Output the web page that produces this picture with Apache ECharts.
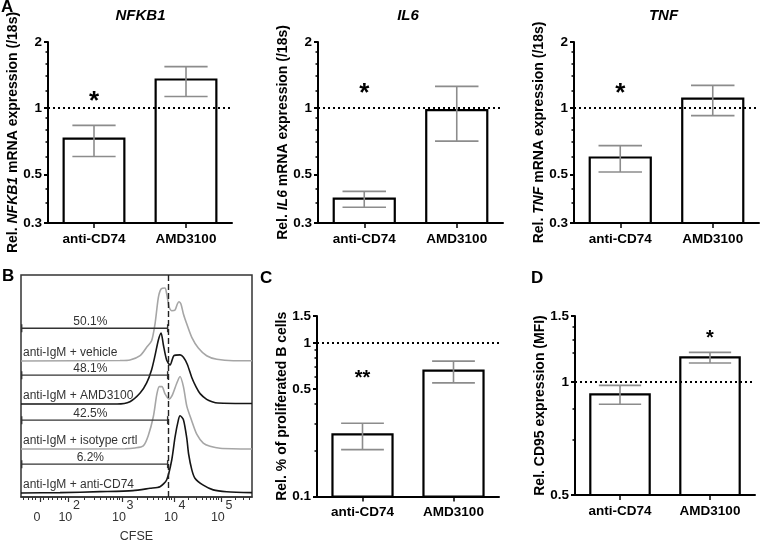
<!DOCTYPE html>
<html><head><meta charset="utf-8">
<script src="https://cdn.jsdelivr.net/npm/echarts@6/dist/echarts.min.js"></script>
<style>html,body{margin:0;padding:0;background:#fff}#c{width:762px;height:545px}</style>
</head><body><div id="c"></div>
<script>
// ---------- DATA ----------
const categories = ['anti-CD74', 'AMD3100'];

// Panel A
const nfkb1Mean = [0.726, 1.35],  nfkb1Low = [0.602, 1.13],  nfkb1High = [0.835, 1.545];
const il6Mean   = [0.387, 0.98],  il6Low   = [0.354, 0.708], il6High   = [0.418, 1.256];
const tnfMean   = [0.596, 1.105], tnfLow   = [0.512, 0.924], tnfHigh   = [0.675, 1.27];
const axisAMajor = [0.3, 0.5, 1, 2];
const axisAMinor = [0.37, 0.43, 0.6, 0.7, 0.8, 0.9, 1.2, 1.4, 1.6, 1.8];

// Panel C
const prolifMean = [0.254, 0.66], prolifLow = [0.202, 0.55], prolifHigh = [0.30, 0.762];
const axisCMajor = [0.1, 0.5, 1, 1.5];
const axisCMinor = [0.2, 0.3, 0.4, 0.6, 0.7, 0.8, 0.9];

// Panel D
const cd95Mean = [0.927, 1.164], cd95Low = [0.873, 1.124], cd95High = [0.98, 1.20];
const axisDMajor = [0.5, 1, 1.5];
const axisDMinor = [0.7, 0.85, 1.2, 1.3, 1.4];

// significance marks: [category index, value]
const sigNfkb1 = [0, 1.13], sigIl6 = [0, 1.24], sigTnf = [0, 1.24], sigProlif = [0, 0.63], sigCd95 = [1, 1.34];
const sigTexts = ['*', '*', '*', '**', '*'];
const refValue = 1;

// Panel B (CFSE histograms, channel units 0-1024, % of mode)
const vehicleX = [0, 439, 483, 528, 557, 579, 594, 609, 621, 638, 646, 657, 668, 683, 693, 700, 709, 720, 735, 757, 786, 823, 868, 941, 1024];
const vehicleY = [0, 0.6, 1.3, 6.8, 17.6, 25.9, 47.4, 81.6, 92.3, 93.6, 85.9, 68.8, 64.5, 65.4, 73.1, 76.0, 73.1, 60.3, 47.4, 30.4, 16.7, 6.8, 2.2, 0.4, 0.4];
const amdX = [0, 426, 483, 528, 557, 579, 594, 609, 621, 631, 646, 661, 678, 705, 720, 737, 757, 776, 795, 823, 847, 873, 1024];
const amdY = [0, 0, 3, 14, 27, 44, 62, 82, 91, 76, 56, 50, 62, 63, 60, 51, 34, 22, 13, 6, 3, 1.3, 0.6];
const isoX = [0, 461, 505, 542, 564, 587, 602, 613, 625, 638, 656, 669, 690, 705, 720, 735, 757, 779, 808, 838, 882, 1024];
const isoY = [0, 0.3, 1.3, 4, 17, 42, 70, 80, 80, 71, 64, 68, 84, 93, 80, 55, 36, 19, 7.5, 3.5, 1.0, 0];
const cd74X = [0, 173, 350, 496, 572, 616, 646, 668, 683, 698, 705, 720, 735, 743, 757, 771, 808, 852, 912, 1024];
const cd74Y = [0, 0.5, 1.7, 3, 6, 8, 17, 42, 72, 94, 99, 94, 70, 50, 30, 19, 10, 4, 1.7, 0.5];
const sampleNames = ['anti-IgM + vehicle', 'anti-IgM + AMD3100', 'anti-IgM + isotype crtl', 'anti-IgM + anti-CD74'];
const gatePercents = ['50.1%', '48.1%', '42.5%', '6.2%'];
const gateStart = 0, gateEnd = 650;
const gateHeights = [42, 37, 37, 37];
const cutoff = 654;
const cfseTickPos = [84, 210, 448, 678, 886];
const cfseTickBase = ['0', '10', '10', '10', '10'];
const cfseTickExp = ['', '2', '3', '4', '5'];
const cfseMinorPos = [10, 30, 50, 65, 100, 120, 140, 160, 180, 195, 282, 324, 353, 376, 395, 411, 425, 437,
  517, 558, 586, 609, 627, 642, 656, 667, 741, 777, 803, 823, 840, 854, 866, 876, 949, 985, 1011];

// ---------- LAYOUT / STYLE ----------
const FONT = 'Liberation Sans, Arial, sans-serif';
const L = v => Math.log10(v);
const barPanels = [
  {mean: nfkb1Mean, lo: nfkb1Low, hi: nfkb1High, min: 0.3, max: 2, major: axisAMajor, minor: axisAMinor,
   name: 'Rel. {i|NFKB1} mRNA expression (/18s)', sig: sigNfkb1, star: 26, grid: {left: 48, top: 42, width: 184, height: 181}},
  {mean: il6Mean, lo: il6Low, hi: il6High, min: 0.3, max: 2, major: axisAMajor, minor: axisAMinor,
   name: 'Rel. {i|IL6} mRNA expression (/18s)', sig: sigIl6, star: 26, grid: {left: 318, top: 42, width: 185, height: 181}},
  {mean: tnfMean, lo: tnfLow, hi: tnfHigh, min: 0.3, max: 2, major: axisAMajor, minor: axisAMinor,
   name: 'Rel. {i|TNF} mRNA expression (/18s)', sig: sigTnf, star: 26, grid: {left: 574, top: 42, width: 185, height: 181}},
  {mean: prolifMean, lo: prolifLow, hi: prolifHigh, min: 0.1, max: 1.5, major: axisCMajor, minor: axisCMinor,
   name: 'Rel. % of proliferated B cells', sig: sigProlif, star: 20, grid: {left: 317, top: 316, width: 182, height: 180.5}},
  {mean: cd95Mean, lo: cd95Low, hi: cd95High, min: 0.5, max: 1.5, major: axisDMajor, minor: axisDMinor,
   name: 'Rel. CD95 expression (MFI)', sig: sigCd95, star: 20, grid: {left: 575, top: 316, width: 180, height: 179}}
];
const histBaselines = [361, 404, 449, 493];
const histHeight = 78;
const histColors = ['#a6a6a6', '#151515', '#a6a6a6', '#151515'];
const histSeries = [[vehicleX, vehicleY], [amdX, amdY], [isoX, isoY], [cd74X, cd74Y]];

const fmtLog = v => String(parseFloat(Math.pow(10, v).toPrecision(3)));

const grid = [], xAxis = [], yAxis = [], series = [];

barPanels.forEach((p, i) => {
  grid.push(Object.assign({outerBoundsMode: 'none', containLabel: false}, p.grid));
  xAxis.push({type: 'category', gridIndex: i, data: categories, position: 'bottom',
    axisLine: {show: true, onZero: false, lineStyle: {color: '#000', width: 2}},
    axisTick: {show: true, alignWithLabel: true, length: 5, lineStyle: {color: '#000', width: 1.5}},
    axisLabel: {fontSize: 13.5, fontWeight: 'bold', color: '#000', margin: 9, fontFamily: FONT},
    splitLine: {show: false}});
  yAxis.push({type: 'value', gridIndex: i, min: L(p.min), max: L(p.max), position: 'left',
    axisLine: {show: true, onZero: false, lineStyle: {color: '#000', width: 2}},
    axisTick: {show: true, customValues: p.major.map(L), length: 4, lineStyle: {color: '#000', width: 2}},
    axisLabel: {customValues: p.major.map(L), formatter: fmtLog, fontSize: 13.5, fontWeight: 'bold', color: '#000', margin: 6, fontFamily: FONT},
    splitLine: {show: false},
    name: p.name, nameLocation: 'middle', nameGap: 28, nameRotate: 90, nameMoveOverlap: false,
    nameTextStyle: {fontSize: 14, fontWeight: 'bold', color: '#000', fontFamily: FONT,
      rich: {i: {fontSize: 14, fontWeight: 'bold', fontStyle: 'italic', color: '#000', fontFamily: FONT}}}});
  yAxis.push({type: 'value', gridIndex: i, min: L(p.min), max: L(p.max), position: 'left',
    axisLine: {show: false}, axisLabel: {show: false}, splitLine: {show: false},
    axisTick: {show: true, customValues: p.minor.map(L), length: 2.5, lineStyle: {color: '#000', width: 1.5}}});
  const data = categories.map((c, j) => [j, L(p.mean[j]), L(p.lo[j]), L(p.hi[j])]);
  const yMinL = L(p.min);
  series.push({type: 'line', xAxisIndex: i, yAxisIndex: 2 * i, data: [], silent: true,
    markLine: {silent: true, symbol: ['none', 'none'], label: {show: false}, animation: false,
      lineStyle: {color: '#000', width: 2, type: [2, 3]}, data: [{yAxis: L(refValue)}]}});
  series.push({type: 'custom', xAxisIndex: i, yAxisIndex: 2 * i, data: data, encode: {x: 0, y: 1},
    renderItem: (params, api) => {
      const j = api.value(0);
      const top = api.coord([j, api.value(1)]);
      const base = api.coord([j, yMinL]);
      const w = api.size([1, 0])[0] * 0.66;
      return {type: 'rect', shape: {x: top[0] - w / 2, y: top[1], width: w, height: base[1] - top[1]},
        style: {fill: '#fff', stroke: '#000', lineWidth: 2.2}};
    }});
  series.push({type: 'custom', xAxisIndex: i, yAxisIndex: 2 * i, data: data, encode: {x: 0, y: [2, 3]}, z: 3,
    renderItem: (params, api) => {
      const j = api.value(0);
      const lo = api.coord([j, api.value(2)]);
      const hi = api.coord([j, api.value(3)]);
      const hw = api.size([1, 0])[0] * 0.235;
      const st = {stroke: '#8c8c8c', lineWidth: 1.6};
      return {type: 'group', children: [
        {type: 'line', shape: {x1: lo[0], y1: lo[1], x2: hi[0], y2: hi[1]}, style: st},
        {type: 'line', shape: {x1: lo[0] - hw, y1: lo[1], x2: lo[0] + hw, y2: lo[1]}, style: st},
        {type: 'line', shape: {x1: hi[0] - hw, y1: hi[1], x2: hi[0] + hw, y2: hi[1]}, style: st}]};
    }});
  series.push({type: 'custom', xAxisIndex: i, yAxisIndex: 2 * i, data: [[p.sig[0], L(p.sig[1])]], encode: {x: 0, y: 1},
    renderItem: (params, api) => {
      const c = api.coord([api.value(0), api.value(1)]);
      return {type: 'text', x: c[0], y: c[1] + 0.22 * p.star,
        style: {text: sigTexts[i], fontSize: p.star, fontWeight: 'bold', fill: '#000', align: 'center', verticalAlign: 'middle', fontFamily: FONT}};
    }});
});

// Panel B frame (grid 5)
grid.push({left: 21, top: 275, width: 231, height: 222, show: true, borderColor: '#333', borderWidth: 1.5,
  backgroundColor: 'transparent', outerBoundsMode: 'none', containLabel: false});
const boxX = xAxis.length;
const tickIdx = v => cfseTickPos.indexOf(v);
xAxis.push({type: 'value', gridIndex: 5, min: 0, max: 1024, position: 'bottom',
  axisLine: {show: true, onZero: false, lineStyle: {color: '#333', width: 1.5}},
  axisTick: {show: true, customValues: cfseTickPos, length: 5, lineStyle: {color: '#333', width: 1.2}},
  axisLabel: {customValues: cfseTickPos, margin: 14, color: '#333', fontFamily: FONT, fontSize: 12.5,
    padding: [0, 6, 0, 0], formatter: v => cfseTickBase[tickIdx(v)]},
  splitLine: {show: false},
  name: 'CFSE', nameLocation: 'middle', nameGap: 33, nameMoveOverlap: false,
  nameTextStyle: {fontSize: 12.5, color: '#333', fontFamily: FONT}});
xAxis.push({type: 'value', gridIndex: 5, min: 0, max: 1024, position: 'bottom',
  axisLine: {show: false}, splitLine: {show: false},
  axisTick: {show: true, customValues: cfseMinorPos, length: 3, lineStyle: {color: '#333', width: 1}},
  axisLabel: {customValues: cfseTickPos, margin: 2, color: '#333', fontFamily: FONT, fontSize: 12.5,
    padding: [0, 0, 0, 16], formatter: v => cfseTickExp[tickIdx(v)]}});
const boxY = yAxis.length;
yAxis.push({type: 'value', gridIndex: 5, min: 0, max: 1, show: false});
series.push({type: 'line', xAxisIndex: boxX, yAxisIndex: boxY, data: [], silent: true, z: 5,
  markLine: {silent: true, symbol: ['none', 'none'], label: {show: false}, animation: false,
    lineStyle: {color: '#222', width: 1.4, type: [6, 3]}, data: [{xAxis: cutoff}]}});

// histogram grids
histBaselines.forEach((b, k) => {
  const gi = grid.length;
  grid.push({left: 21, width: 231, top: b - histHeight, height: histHeight, outerBoundsMode: 'none', containLabel: false});
  const xi = xAxis.length, yi = yAxis.length;
  xAxis.push({type: 'value', gridIndex: gi, min: 0, max: 1024, show: false});
  yAxis.push({type: 'value', gridIndex: gi, min: 0, max: 100, show: false});
  const [xs, ys] = histSeries[k];
  series.push({type: 'line', xAxisIndex: xi, yAxisIndex: yi, data: xs.map((x, n) => [x, ys[n]]),
    symbol: 'none', smooth: 0.25, clip: false, lineStyle: {color: histColors[k], width: 1.6}, z: 2});
  series.push({type: 'custom', xAxisIndex: xi, yAxisIndex: yi, data: [[gateStart, gateEnd, gateHeights[k]]],
    encode: {x: [0, 1], y: 2}, z: 3,
    renderItem: (params, api) => {
      const a = api.coord([api.value(0), api.value(2)]);
      const c = api.coord([api.value(1), api.value(2)]);
      const base = api.coord([0, 0]);
      const ls = {stroke: '#333', lineWidth: 1.4};
      return {type: 'group', children: [
        {type: 'line', shape: {x1: a[0], y1: a[1], x2: c[0], y2: c[1]}, style: ls},
        {type: 'line', shape: {x1: a[0] + 0.7, y1: a[1] - 4, x2: a[0] + 0.7, y2: a[1] + 4}, style: ls},
        {type: 'line', shape: {x1: c[0], y1: c[1] - 4, x2: c[0], y2: c[1] + 4}, style: ls},
        {type: 'text', x: (a[0] + c[0]) / 2 - 4, y: a[1] - 0.5,
          style: {text: gatePercents[k], fontSize: 12, fill: '#333', align: 'center', verticalAlign: 'bottom', fontFamily: FONT}},
        {type: 'text', x: base[0] + 2, y: base[1] - 2,
          style: {text: sampleNames[k], fontSize: 12, fill: '#333', align: 'left', verticalAlign: 'bottom', fontFamily: FONT}}]};
    }});
});

const letter = (t, x, y) => ({type: 'text', x: x, y: y, style: {text: t, fontSize: 17, fontWeight: 'bold', fill: '#000', fontFamily: FONT}});
const title = (t, x, y) => ({type: 'text', x: x, y: y, style: {text: t, fontSize: 15, fontWeight: 'bold', fontStyle: 'italic', fill: '#000', align: 'center', verticalAlign: 'middle', fontFamily: FONT}});

const chart = echarts.init(document.getElementById('c'), null, {renderer: 'canvas'});
chart.setOption({
  animation: false,
  backgroundColor: '#fff',
  textStyle: {fontFamily: FONT},
  grid: grid, xAxis: xAxis, yAxis: yAxis, series: series,
  graphic: [letter('A', 1, -1), letter('B', 2, 268), letter('C', 260, 270), letter('D', 531, 270),
    title('NFKB1', 140.5, 16), title('IL6', 408, 16), title('TNF', 663.5, 16)]
});
</script></body></html>
